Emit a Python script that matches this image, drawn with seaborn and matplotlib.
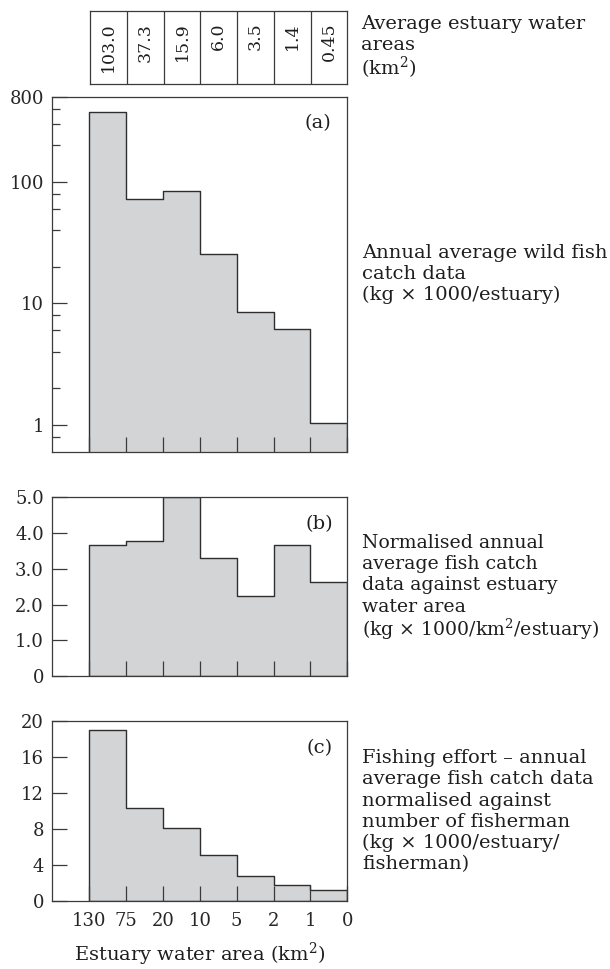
import numpy as np
import pandas as pd
import matplotlib
matplotlib.use("Agg")
import matplotlib.pyplot as plt
import seaborn as sns
from matplotlib.ticker import FixedLocator, FixedFormatter, NullFormatter

sns.set_theme(style="white")
plt.rcParams["font.family"] = ["DejaVu Serif"]
plt.rcParams["mathtext.fontset"] = "dejavuserif"
plt.rcParams["text.color"] = "#1e1e1e"
plt.rcParams["axes.axisbelow"] = False

# Estuary size classes (km²), class edges and mean water area per class
area_classes = ["130–75", "75–20", "20–10", "10–5", "5–2", "2–1", "1–0"]
edge_labels = ["130", "75", "20", "10", "5", "2", "1", "0"]
mean_areas = ["103.0", "37.3", "15.9", "6.0", "3.5", "1.4", "0.45"]

# (a) annual average wild fish catch (kg × 1000 / estuary)
catch = [377, 72, 84, 25.6, 8.5, 6.2, 1.04]
# (b) catch normalised against estuary water area (kg × 1000 / km² / estuary)
catch_per_area = [3.65, 3.78, 5.0, 3.3, 2.23, 3.67, 2.62]
# (c) catch normalised against number of fishermen
catch_per_fisher = [19.0, 10.4, 8.2, 5.1, 2.8, 1.8, 1.3]

W, H = 610, 969
FILL = "#d3d4d6"
EDGE = "#2e2e2e"
SPINE = "#3a3a3a"
TICK_FS = 13
TEXT_FS = 14

df = pd.DataFrame({
    "cls": area_classes,
    "pos": np.arange(len(area_classes)) + 1.5,
    "catch": catch,
    "per_area": catch_per_area,
    "per_fisher": catch_per_fisher,
})
bins = [float(b) for b in range(1, len(area_classes) + 2)]

fig = plt.figure(figsize=(W / 100, H / 100), dpi=100)


def px_axes(x0, y0, x1, y1):
    return fig.add_axes([x0 / W, 1 - y1 / H, (x1 - x0) / W, (y1 - y0) / H])


def style_ticks(ax):
    ax.tick_params(axis="both", which="major", direction="in", length=11,
                   width=0.9, color=SPINE, labelsize=TICK_FS, pad=6,
                   left=True, bottom=True)
    ax.tick_params(axis="y", which="minor", direction="in", length=5.5,
                   width=0.9, color=SPINE, left=True)
    ax.tick_params(axis="x", labelbottom=False)


def step_hist(ax, col):
    sns.histplot(data=df, x="pos", weights=col, bins=bins, element="step",
                 fill=True, color=FILL, edgecolor=EDGE, linewidth=1.0,
                 alpha=1, ax=ax)
    ax.set_axisbelow(False)
    ax.set_xlim(0, 8)
    ax.set_xlabel("")
    ax.set_ylabel("")
    ax.xaxis.set_major_locator(FixedLocator(list(range(1, 9))))
    style_ticks(ax)
    for s in ax.spines.values():
        s.set_color(SPINE)
        s.set_linewidth(0.9)


# --- table of mean water areas, one cell per size class ---
tax = px_axes(90.3, 11, 347.3, 84)
tax.set_xlim(1, 8)
tax.set_ylim(0, 1)
tax.set_xticks([])
tax.set_yticks([])
for s in tax.spines.values():
    s.set_color(SPINE)
    s.set_linewidth(0.9)
for i in range(2, 8):
    tax.axvline(i, color=SPINE, lw=0.9)
for p, a in zip(df["pos"], mean_areas):
    tax.text(p, 0.84, a, rotation=90, ha="center", va="top", fontsize=12.5)

# --- (a) catch, log scale ---
ax_a = px_axes(52.3, 96.7, 347.3, 451.7)
step_hist(ax_a, "catch")
ax_a.set_yscale("log")
ax_a.set_ylim(0.6, 503)
ax_a.yaxis.set_major_locator(FixedLocator([1, 10, 100, 503]))
ax_a.yaxis.set_major_formatter(FixedFormatter(["1", "10", "100", "800"]))
ax_a.yaxis.set_minor_locator(FixedLocator([0.8, 2, 4, 6, 8, 20, 40, 60, 80, 200, 300, 400]))
ax_a.yaxis.set_minor_formatter(NullFormatter())
style_ticks(ax_a)
ax_a.text(0.9, 0.926, "(a)", transform=ax_a.transAxes, ha="center", va="center", fontsize=TEXT_FS)

# --- (b) catch per km² ---
ax_b = px_axes(52.3, 497, 347.3, 676.3)
step_hist(ax_b, "per_area")
ax_b.set_ylim(0, 5)
ax_b.yaxis.set_major_locator(FixedLocator([0, 1, 2, 3, 4, 5]))
ax_b.yaxis.set_major_formatter(FixedFormatter(["0", "1.0", "2.0", "3.0", "4.0", "5.0"]))
ax_b.text(0.905, 0.849, "(b)", transform=ax_b.transAxes, ha="center", va="center", fontsize=TEXT_FS)

# --- (c) catch per fisherman ---
ax_c = px_axes(52.3, 721.3, 347.3, 901.3)
step_hist(ax_c, "per_fisher")
ax_c.set_ylim(0, 20)
ax_c.yaxis.set_major_locator(FixedLocator([0, 4, 8, 12, 16, 20]))
ax_c.yaxis.set_major_formatter(FixedFormatter(["0", "4", "8", "12", "16", "20"]))
ax_c.xaxis.set_major_formatter(FixedFormatter(edge_labels))
ax_c.tick_params(axis="x", labelbottom=True, labelsize=13, pad=8)
ax_c.text(0.905, 0.852, "(c)", transform=ax_c.transAxes, ha="center", va="center", fontsize=TEXT_FS)

fig.text(200 / W, 1 - 961 / H, "Estuary water area (km$^2$)", ha="center",
         va="baseline", fontsize=TEXT_FS)


def text_block(x, ys, lines, size=TEXT_FS):
    for y, line in zip(ys, lines):
        fig.text(x / W, 1 - y / H, line, ha="left", va="center_baseline", fontsize=size)


text_block(361, [21.7, 43.4, 65], ["Average estuary water", "areas", "(km$^2$)"])
text_block(362, [251, 272, 293], ["Annual average wild fish", "catch data",
                                  "(kg × 1000/estuary)"])
text_block(362, [541, 562, 583.5, 605, 626.5],
           ["Normalised annual", "average fish catch", "data against estuary",
            "water area", "(kg × 1000/km$^2$/estuary)"], size=13.6)
text_block(362, [756, 777.5, 798.5, 820, 841, 862],
           ["Fishing effort – annual", "average fish catch data",
            "normalised against", "number of fisherman",
            "(kg × 1000/estuary/", "fisherman)"])

fig.savefig("out.png", dpi=100)
